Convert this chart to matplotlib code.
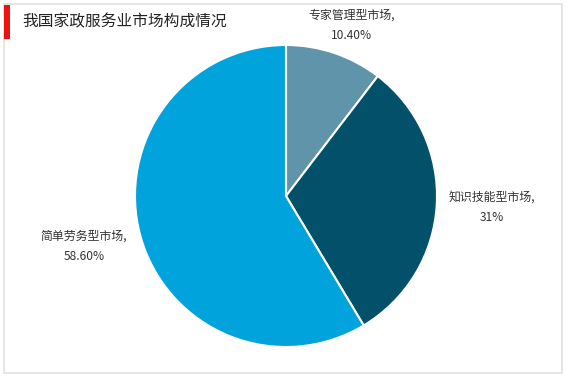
import matplotlib.pyplot as plt
from matplotlib.patches import Rectangle

plt.rcParams['font.family'] = ['Noto Sans CJK SC', 'DejaVu Sans']

title = '我国家政服务业市场构成情况'
categories = ['专家管理型市场', '知识技能型市场', '简单劳务型市场']
shares = [10.40, 31, 58.60]
share_labels = ['10.40%', '31%', '58.60%']
colors = ['#5f94aa', '#03506b', '#00a3dc']

W, H = 567, 378
fig = plt.figure(figsize=(W / 100, H / 100), dpi=100)

# outer frame
fig.patches.append(Rectangle((4 / W, 5 / H), 558 / W, 369 / H, transform=fig.transFigure,
                             fill=False, edgecolor='#e0e0e0', linewidth=1.2))
# red title marker
fig.patches.append(Rectangle((4 / W, (H - 39) / H), 6 / W, 34 / H, transform=fig.transFigure,
                             facecolor='#ee1111', edgecolor='none'))
fig.text(22 / W, (H - 22) / H, title, fontsize=11.3, va='center', ha='left', color='#222222')

cx, cy, r = 286, 196, 151
ax = fig.add_axes([(cx - r) / W, (H - cy - r) / H, 2 * r / W, 2 * r / H])
ax.pie(shares, colors=colors, startangle=90, counterclock=False,
       wedgeprops=dict(edgecolor='white', linewidth=1.5))
ax.set_xlim(-1, 1)
ax.set_ylim(-1, 1)
ax.set_aspect('equal')
ax.axis('off')

label_pos = [(352, 25), (492, 207), (84, 246)]
for name, lab, (px, py) in zip(categories, share_labels, label_pos):
    ax.text((px - cx) / r, (cy - py) / r, f'{name},\n{lab}', ha='center', va='center',
            fontsize=8.6, color='#333333', linespacing=1.75)

fig.savefig('out.png', dpi=100)
